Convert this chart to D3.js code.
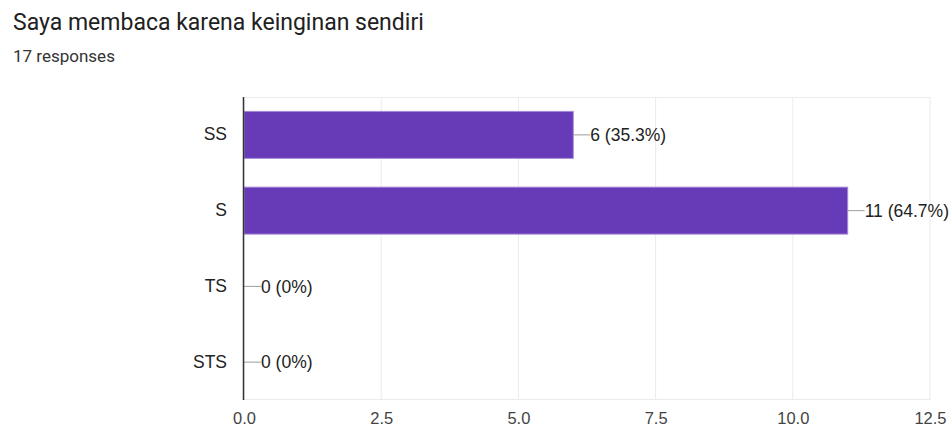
<!DOCTYPE html>
<html><head><meta charset="utf-8">
<script src="https://cdn.jsdelivr.net/npm/d3@7"></script>
<style>body{margin:0;background:#fff;font-family:Roboto,Arial,sans-serif;}</style>
</head><body>
<svg id="c" width="951" height="430"></svg>
<script>
const title = "Saya membaca karena keinginan sendiri";
const subtitle = "17 responses";
const categories = ["SS", "S", "TS", "STS"];
const counts = [6, 11, 0, 0];
const labels = ["6 (35.3%)", "11 (64.7%)", "0 (0%)", "0 (0%)"];
const xTicks = [0, 2.5, 5, 7.5, 10, 12.5];

const chartFont = "'Liberation Sans',Arial,sans-serif";
const svg = d3.select("#c");
const m = {left: 244, right: 930, top: 97, bottom: 400};
const x = d3.scaleLinear().domain([0, 12.5]).range([m.left, m.right]);
const y = d3.scaleBand().domain(categories).range([m.top, m.bottom]).paddingInner(0.38).paddingOuter(0.19);

svg.append("text").attr("x", 13).attr("y", 30).attr("font-size", 23).attr("fill", "#212121").text(title);
svg.append("text").attr("x", 13).attr("y", 62).attr("font-size", 17).attr("fill", "#333").text(subtitle);

// gridlines
svg.append("g").selectAll("line").data(xTicks).join("line")
  .attr("x1", d => x(d)).attr("x2", d => x(d)).attr("y1", m.top).attr("y2", m.bottom)
  .attr("stroke", "#ebebeb").attr("stroke-width", 1);
svg.append("line").attr("x1", m.left).attr("x2", m.right).attr("y1", m.top + 0.5).attr("y2", m.top + 0.5).attr("stroke", "#ebebeb");
svg.append("line").attr("x1", m.left).attr("x2", m.right).attr("y1", m.bottom - 0.5).attr("y2", m.bottom - 0.5).attr("stroke", "#ebebeb");

// x axis tick labels
const xAxis = d3.axisBottom(x).tickValues(xTicks).tickFormat(d3.format(".1f")).tickSize(0).tickPadding(12);
const gx = svg.append("g").attr("transform", `translate(0,${m.bottom})`).call(xAxis);
gx.select(".domain").remove();
gx.selectAll("text").attr("font-size", 16.5).attr("fill", "#444").attr("font-family", chartFont);

// y axis labels
const yAxis = d3.axisLeft(y).tickSize(0).tickPadding(17);
const gy = svg.append("g").attr("transform", `translate(${m.left},0)`).call(yAxis);
gy.select(".domain").remove();
gy.selectAll("text").attr("font-size", 17.5).attr("fill", "#222").attr("font-family", chartFont);

// bars
const data = categories.map((c, i) => ({c, v: counts[i], l: labels[i]}));
svg.append("g").selectAll("rect").data(data.filter(d => d.v > 0)).join("rect")
  .attr("x", x(0)).attr("y", d => y(d.c)).attr("width", d => x(d.v) - x(0)).attr("height", y.bandwidth())
  .attr("fill", "#673ab7").attr("stroke", "#a58ad6").attr("stroke-width", 1);

// leader lines and labels
const lg = svg.append("g");
lg.selectAll("line").data(data).join("line")
  .attr("x1", d => x(d.v)).attr("x2", d => x(d.v) + 17)
  .attr("y1", d => y(d.c) + y.bandwidth() / 2).attr("y2", d => y(d.c) + y.bandwidth() / 2)
  .attr("stroke", "#9e9e9e").attr("stroke-width", 1);
lg.selectAll("text").data(data).join("text")
  .attr("x", d => x(d.v) + 17).attr("y", d => y(d.c) + y.bandwidth() / 2).attr("dy", "0.36em")
  .attr("font-size", 17.5).attr("fill", "#222").attr("font-family", chartFont).text(d => d.l);

// y axis line
svg.append("line").attr("x1", m.left - 0.5).attr("x2", m.left - 0.5).attr("y1", m.top).attr("y2", m.bottom)
  .attr("stroke", "#333").attr("stroke-width", 1.5);
</script>
</body></html>
